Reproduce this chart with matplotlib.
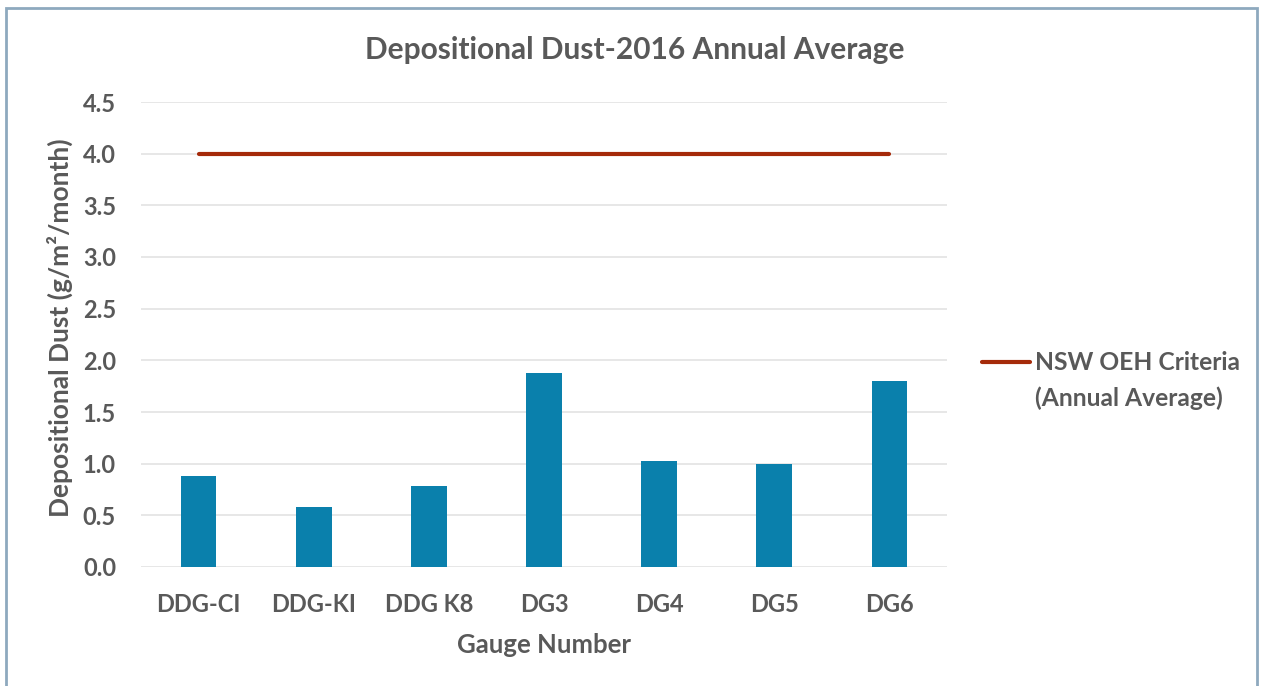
import numpy as np
import matplotlib.pyplot as plt
from matplotlib.patches import Rectangle

plt.rcParams["font.family"] = ["Lato", "DejaVu Sans"]

# 数据
gauges = ["DDG-CI", "DDG-KI", "DDG K8", "DG3", "DG4", "DG5", "DG6"]
dust = [0.88, 0.58, 0.78, 1.88, 1.03, 1.00, 1.80]
criteria = [4.0, 4.0, 4.0, 4.0, 4.0, 4.0, 4.0]
yticks = [0.0, 0.5, 1.0, 1.5, 2.0, 2.5, 3.0, 3.5, 4.0, 4.5]

txt = "#595959"
W, H = 1263, 686
fig = plt.figure(figsize=(W / 100, H / 100), dpi=100)
ax = fig.add_axes([141 / W, 1 - 567 / H, 806 / W, 465 / H])

x = np.arange(len(gauges))
ax.bar(x, dust, width=0.31, color="#0A80AC", zorder=3)
ax.plot(x, criteria, color="#A52A0A", linewidth=3, solid_capstyle="round",
        zorder=4, label="NSW OEH Criteria")

ax.set_xlim(-0.5, len(gauges) - 0.5)
ax.set_ylim(0, 4.5)
ax.set_yticks(yticks)
ax.set_yticklabels([f"{v:.1f}" for v in yticks])
ax.set_xticks(x)
ax.set_xticklabels(gauges)
ax.yaxis.grid(True, color="#E3E3E3", linewidth=1.2, zorder=0)
for s in ax.spines.values():
    s.set_visible(False)
ax.tick_params(length=0, labelsize=17, labelcolor=txt)
ax.tick_params(axis="y", pad=18)
ax.tick_params(axis="x", pad=19)
for lab in ax.get_xticklabels() + ax.get_yticklabels():
    lab.set_fontweight("bold")

# 标题和坐标轴标签
fig.text(635 / W, 1 - 50 / H, "Depositional Dust-2016 Annual Average", fontsize=21.5,
         fontweight="bold", color=txt, ha="center", va="center")
ax.set_xlabel("Gauge Number", fontsize=18.5, fontweight="bold", color=txt)
ax.xaxis.set_label_coords(0.5, (567 - 633) / 465)
ax.set_ylabel("Depositional Dust (g/m²/month)", fontsize=19, fontweight="bold", color=txt)
ax.yaxis.set_label_coords((73 - 141) / 806, 0.515)

# 图例
leg = fig.legend(loc="center left", bbox_to_anchor=(982 / W, 1 - 363 / H), frameon=False,
                 borderpad=0, borderaxespad=0, handlelength=1.95, handletextpad=0.2,
                 prop={"size": 17.7, "weight": "bold"})
for t in leg.get_texts():
    t.set_color(txt)
fig.text(1035 / W, 1 - 398 / H, "(Annual Average)", fontsize=17.7, fontweight="bold",
         color=txt, ha="left", va="center")

# 外框
fig.patches.append(Rectangle((6 / W, -0.02), 1251 / W, 1 - 8 / H + 0.02,
                             transform=fig.transFigure, fill=False,
                             edgecolor="#8EA9BE", linewidth=2))

fig.savefig("out.png", dpi=100)
